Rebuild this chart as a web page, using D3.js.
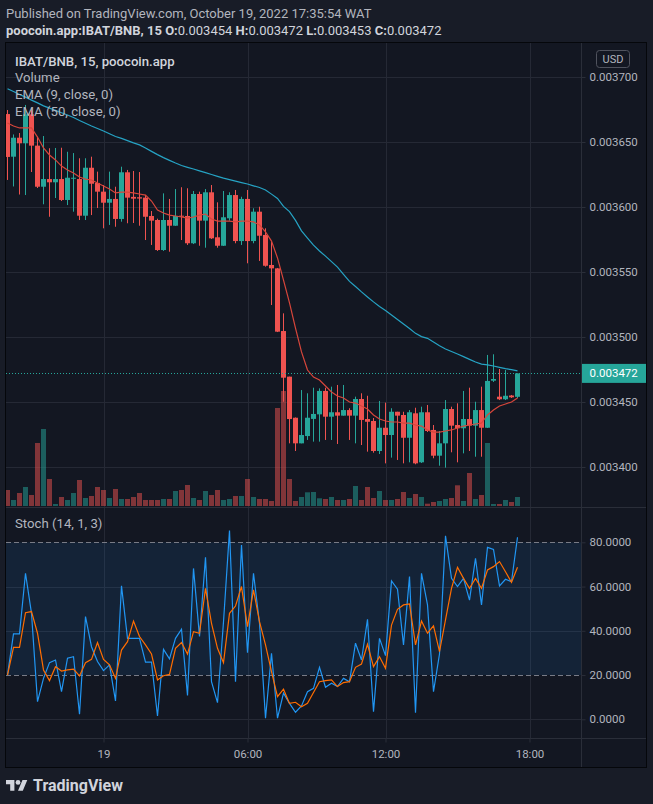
<!DOCTYPE html>
<html>
<head>
<meta charset="utf-8">
<script src="https://cdn.jsdelivr.net/npm/d3@7"></script>
<style>
  html, body { margin: 0; padding: 0; background: #181c27; }
  svg { display: block; }
  text { font-family: Roboto, "Noto Sans", sans-serif; }
</style>
</head>
<body>
<svg id="chart" width="653" height="804"></svg>
<script>
/*******************************************************************************
 *
 * IBAT/BNB, 15 min, poocoin.app  –  Kerzen, Volumen, EMA 9/50, Stoch (14,1,3)
 *
 ******************************************************************************/

// Kerzen (Index 0 = 18.10. 20:00, eine Kerze je 15 Minuten)
var open = [
  0.0036715, 0.0036387, 0.0036533, 0.0036490, 0.0036713, 0.0036472, 0.0036156, 0.0036215, 0.0036190, 0.0036215,
  0.0036054, 0.0036220, 0.0036215, 0.0035933, 0.0036302, 0.0036185, 0.0036118, 0.0036033, 0.0036062, 0.0035908,
  0.0036267, 0.0036078, 0.0036075, 0.0036072, 0.0035931, 0.0035900, 0.0035669, 0.0035900, 0.0035856, 0.0035933,
  0.0035931, 0.0035721, 0.0036100, 0.0035895, 0.0036113, 0.0035767, 0.0035702, 0.0035913, 0.0036092, 0.0035738,
  0.0036062, 0.0035738, 0.0035964, 0.0035785, 0.0035554, 0.0035528, 0.0035046, 0.0034695, 0.0034379, 0.0034182,
  0.0034238, 0.0034370, 0.0034405, 0.0034585, 0.0034387, 0.0034421, 0.0034395, 0.0034438, 0.0034395, 0.0034523,
  0.0034369, 0.0034354, 0.0034123, 0.0034302, 0.0034246, 0.0034425, 0.0034400, 0.0034225, 0.0034413, 0.0034036,
  0.0034421, 0.0034285, 0.0034087, 0.0034182, 0.0034446, 0.0034323, 0.0034298, 0.0034369, 0.0034318, 0.0034438,
  0.0034302, 0.0034664, 0.0034541, 0.0034521, 0.0034550, 0.0034540
];
var high = [
  0.0036746, 0.0036558, 0.0036569, 0.0036785, 0.0036762, 0.0036541, 0.0036546, 0.0036452, 0.0036454, 0.0036456,
  0.0036425, 0.0036415, 0.0036375, 0.0036375, 0.0036387, 0.0036272, 0.0036169, 0.0036272, 0.0036156, 0.0036310,
  0.0036285, 0.0036277, 0.0036269, 0.0036092, 0.0035969, 0.0035910, 0.0036105, 0.0036062, 0.0036138, 0.0036152,
  0.0036144, 0.0036123, 0.0036118, 0.0036138, 0.0036169, 0.0036036, 0.0036123, 0.0036113, 0.0036131, 0.0036079,
  0.0036131, 0.0035990, 0.0036002, 0.0035836, 0.0035733, 0.0035531, 0.0035182, 0.0034695, 0.0034381, 0.0034592,
  0.0034567, 0.0034610, 0.0034605, 0.0034610, 0.0034618, 0.0034631, 0.0034631, 0.0034452, 0.0034541, 0.0034567,
  0.0034548, 0.0034377, 0.0034508, 0.0034495, 0.0034452, 0.0034425, 0.0034425, 0.0034438, 0.0034456, 0.0034464,
  0.0034477, 0.0034323, 0.0034277, 0.0034515, 0.0034464, 0.0034490, 0.0034585, 0.0034610, 0.0034502, 0.0034618,
  0.0034862, 0.0034867, 0.0034754, 0.0034746, 0.0034554, 0.0034720
];
var low = [
  0.0036208, 0.0036158, 0.0036096, 0.0036092, 0.0036269, 0.0036146, 0.0036021, 0.0035925, 0.0036069, 0.0036046,
  0.0036015, 0.0035964, 0.0035900, 0.0035900, 0.0035938, 0.0035992, 0.0035836, 0.0035862, 0.0035848, 0.0035887,
  0.0035875, 0.0035877, 0.0035856, 0.0035746, 0.0035708, 0.0035662, 0.0035662, 0.0035656, 0.0035854, 0.0035746,
  0.0035708, 0.0035715, 0.0035702, 0.0035687, 0.0035754, 0.0035687, 0.0035700, 0.0035895, 0.0035721, 0.0035708,
  0.0035567, 0.0035721, 0.0035585, 0.0035541, 0.0035246, 0.0035038, 0.0034502, 0.0034182, 0.0034123, 0.0034182,
  0.0034208, 0.0034195, 0.0034195, 0.0034208, 0.0034208, 0.0034177, 0.0034395, 0.0034208, 0.0034182, 0.0034169,
  0.0034118, 0.0034110, 0.0034100, 0.0034028, 0.0034072, 0.0034054, 0.0034028, 0.0034036, 0.0034021, 0.0034031,
  0.0034269, 0.0034067, 0.0034010, 0.0033995, 0.0034113, 0.0034036, 0.0034105, 0.0034123, 0.0034079, 0.0034079,
  0.0034300, 0.0034654, 0.0034515, 0.0034515, 0.0034531, 0.0034530
];
var close = [
  0.0036385, 0.0036533, 0.0036490, 0.0036713, 0.0036472, 0.0036156, 0.0036215, 0.0036190, 0.0036215, 0.0036054,
  0.0036225, 0.0036225, 0.0035933, 0.0036302, 0.0036179, 0.0036118, 0.0036033, 0.0036062, 0.0035908, 0.0036267,
  0.0036072, 0.0036064, 0.0036065, 0.0035925, 0.0035895, 0.0035669, 0.0035900, 0.0035856, 0.0035931, 0.0035926,
  0.0035721, 0.0036100, 0.0035895, 0.0036113, 0.0035759, 0.0035702, 0.0035921, 0.0036092, 0.0035738, 0.0036062,
  0.0035738, 0.0035964, 0.0035779, 0.0035548, 0.0035528, 0.0035041, 0.0034687, 0.0034369, 0.0034182, 0.0034246,
  0.0034379, 0.0034408, 0.0034585, 0.0034387, 0.0034421, 0.0034395, 0.0034438, 0.0034395, 0.0034523, 0.0034362,
  0.0034348, 0.0034123, 0.0034302, 0.0034246, 0.0034425, 0.0034395, 0.0034225, 0.0034421, 0.0034028, 0.0034421,
  0.0034277, 0.0034087, 0.0034182, 0.0034446, 0.0034318, 0.0034298, 0.0034369, 0.0034318, 0.0034438, 0.0034302,
  0.0034662, 0.0034677, 0.0034521, 0.0034548, 0.0034536, 0.0034720
];

// Volumen (Tausend)
var volume = [
  16, 6, 13, 19, 11, 63, 77, 27, 2, 9,
  6, 13, 26, 8, 10, 19, 16, 8, 17, 7,
  7, 9, 13, 6, 6, 6, 7, 7, 15, 16,
  21, 8, 6, 15, 11, 16, 6, 7, 10, 10,
  27, 9, 7, 7, 5, 98, 115, 27, 5, 9,
  13.7, 14, 7.7, 7, 9, 6, 6, 7, 20, 6,
  19, 8, 15, 6, 6, 7, 14, 8, 12, 9,
  2.3, 4, 5, 7, 8, 20.7, 5, 33, 7, 11,
  63, 2, 2, 6, 4, 9
];

// EMA (9, close) und EMA (50, close)
var ema9 = [
  0.0036646, 0.0036623, 0.0036608, 0.0036608, 0.0036608, 0.0036538, 0.0036454, 0.0036400, 0.0036362, 0.0036315,
  0.0036285, 0.0036262, 0.0036231, 0.0036215, 0.0036208, 0.0036185, 0.0036162, 0.0036138, 0.0036108, 0.0036115,
  0.0036115, 0.0036108, 0.0036100, 0.0036092, 0.0036046, 0.0035977, 0.0035954, 0.0035938, 0.0035931, 0.0035923,
  0.0035915, 0.0035923, 0.0035938, 0.0035946, 0.0035908, 0.0035892, 0.0035892, 0.0035892, 0.0035885, 0.0035892,
  0.0035892, 0.0035885, 0.0035862, 0.0035808, 0.0035738, 0.0035608, 0.0035438, 0.0035262, 0.0035069, 0.0034885,
  0.0034746, 0.0034692, 0.0034669, 0.0034623, 0.0034577, 0.0034546, 0.0034531, 0.0034500, 0.0034492, 0.0034469,
  0.0034446, 0.0034400, 0.0034369, 0.0034354, 0.0034346, 0.0034346, 0.0034338, 0.0034338, 0.0034323, 0.0034315,
  0.0034285, 0.0034269, 0.0034269, 0.0034277, 0.0034285, 0.0034300, 0.0034315, 0.0034323, 0.0034331, 0.0034338,
  0.0034400, 0.0034438, 0.0034469, 0.0034485, 0.0034500, 0.0034531
];
var ema50 = [
  0.0036910, 0.0036888, 0.0036866, 0.0036845, 0.0036822, 0.0036801, 0.0036778, 0.0036761, 0.0036743, 0.0036725,
  0.0036708, 0.0036688, 0.0036665, 0.0036644, 0.0036623, 0.0036604, 0.0036585, 0.0036563, 0.0036542, 0.0036528,
  0.0036511, 0.0036493, 0.0036478, 0.0036454, 0.0036428, 0.0036403, 0.0036380, 0.0036359, 0.0036338, 0.0036319,
  0.0036305, 0.0036292, 0.0036278, 0.0036264, 0.0036250, 0.0036236, 0.0036222, 0.0036211, 0.0036199, 0.0036188,
  0.0036177, 0.0036163, 0.0036150, 0.0036131, 0.0036099, 0.0036066, 0.0036005, 0.0035965, 0.0035897, 0.0035817,
  0.0035761, 0.0035707, 0.0035662, 0.0035622, 0.0035580, 0.0035538, 0.0035482, 0.0035428, 0.0035388, 0.0035347,
  0.0035308, 0.0035270, 0.0035234, 0.0035203, 0.0035169, 0.0035135, 0.0035100, 0.0035065, 0.0035028, 0.0035003,
  0.0034990, 0.0034961, 0.0034932, 0.0034908, 0.0034888, 0.0034869, 0.0034849, 0.0034828, 0.0034808, 0.0034791,
  0.0034785, 0.0034777, 0.0034767, 0.0034757, 0.0034749, 0.0034739
];

// Stoch (14, 1, 3): %K und %D
var stochK = [
  20.0, 38.6, 38.6, 66.0, 47.9, 8.0, 18.5, 25.6, 26.8, 12.5,
  27.6, 28.3, 2.3, 46.4, 32.8, 26.1, 22.0, 24.6, 8.3, 60.3,
  36.6, 36.6, 36.6, 25.8, 25.8, 1.5, 31.6, 27.3, 36.6, 40.7,
  10.8, 68.2, 37.4, 73.2, 17.0, 7.5, 44.1, 85.3, 17.0, 78.8,
  30.1, 66.0, 43.4, 0.5, 29.8, 0.5, 11.8, 7.2, 3.2, 6.0,
  12.5, 14.0, 23.5, 14.5, 16.3, 14.8, 18.5, 17.0, 34.4, 26.8,
  45.2, 3.4, 36.6, 28.8, 62.5, 58.8, 33.6, 64.5, 3.0, 66.0,
  51.7, 12.5, 29.5, 82.9, 63.7, 60.0, 63.7, 53.9, 72.8, 51.7,
  77.7, 76.8, 60.3, 63.3, 62.2, 82.3
];
var stochD = [
  20.0, 32.5, 32.5, 48.2, 48.7, 38.9, 22.3, 17.5, 23.8, 21.8,
  22.3, 22.7, 19.6, 25.6, 27.1, 34.7, 27.1, 24.6, 18.5, 31.3,
  35.1, 44.4, 37.4, 33.6, 29.5, 17.8, 19.7, 20.3, 32.1, 34.7,
  29.5, 39.6, 38.9, 59.2, 43.4, 32.1, 25.6, 47.9, 51.2, 60.0,
  41.9, 58.5, 44.1, 33.6, 21.5, 10.2, 13.6, 7.2, 7.7, 5.7,
  7.2, 12.1, 17.0, 17.5, 17.8, 14.8, 16.6, 17.0, 23.5, 25.0,
  33.9, 23.8, 28.3, 23.1, 42.6, 49.7, 51.7, 52.1, 33.6, 44.4,
  38.9, 42.2, 30.6, 44.9, 59.2, 68.7, 63.7, 59.2, 63.7, 59.2,
  67.5, 69.0, 71.3, 66.7, 61.9, 68.7
];

// Achsen
var priceTicks = [0.0034, 0.00345, 0.0035, 0.00355, 0.0036, 0.00365, 0.0037];
var stochTicks = [0, 20, 40, 60, 80];
var stochGrid = [0, 40, 60];
var stochBand = [20, 80];
var timeTickLabels = ["19", "06:00", "12:00", "18:00"];
var timeTickIndex = [16, 40, 63, 87];
var lastPrice = 0.003472;

/*******************************************************************************
 * Layout
 ******************************************************************************/
var frame = {left: 6, right: 646, top: 43, bottom: 767};
var axisX = 581;        // Trennlinie Preisskala
var paneSplit = 507;    // Trennlinie Kurs / Stoch
var timeAxisY = 738.5;  // Trennlinie Zeitachse

var col = {
  bg: "#131722",
  grid: "#252935",
  sep: "#2a2e39",
  text: "#b2b5be",
  up: "#26a69a",
  down: "#ef5350",
  upVol: "rgba(38,166,154,0.5)",
  downVol: "rgba(239,83,80,0.5)",
  ema9: "#d7463b",
  ema50: "#26a3c4",
  k: "#2196f3",
  d: "#ff6d00"
};

var svg = d3.select("#chart");

// Skalen
var x = d3.scaleLinear().domain([-0.25, 95.5833]).range([frame.left, axisX]);
var y = d3.scaleLinear().domain([0.0034, 0.0037]).range([467, 77]);
var yVol = d3.scaleLinear().domain([0, 115]).range([506, 391]);
var yStoch = d3.scaleLinear().domain([0, 80]).range([719.3, 542.3]);

var idx = d3.range(open.length);

/*******************************************************************************
 * Hintergrund, Kopfzeilen
 ******************************************************************************/
svg.append("rect").attr("width", 653).attr("height", 804).attr("fill", "#181c27");

var head = svg.append("g").attr("font-size", "13px");
head.append("text")
  .attr("x", 6).attr("y", 17.8)
  .attr("fill", "#b2b5be")
  .text("Published on TradingView.com, October 19, 2022 17:35:54 WAT");

var head2 = head.append("text")
  .attr("x", 6).attr("y", 34.5)
  .attr("fill", "#d1d4dc");
head2.append("tspan").attr("font-weight", "bold").text("poocoin.app:IBAT/BNB, 15 ");
[["O:", "0.003454"], ["H:", "0.003472"], ["L:", "0.003453"], ["C:", "0.003472"]].forEach(function(p, i) {
  head2.append("tspan").attr("font-weight", "bold").text(p[0]);
  head2.append("tspan").text(p[1] + (i < 3 ? " " : ""));
});

svg.append("rect")
  .attr("x", frame.left - 0.5).attr("y", frame.top - 0.5)
  .attr("width", frame.right - frame.left + 1).attr("height", frame.bottom - frame.top + 1)
  .attr("fill", col.bg)
  .attr("stroke", "#05070b");

/*******************************************************************************
 * Raster
 ******************************************************************************/
var grid = svg.append("g").attr("stroke", col.grid).attr("stroke-width", 1);

grid.selectAll(".vgrid").data(timeTickIndex).enter().append("line")
  .attr("x1", function(d) { return Math.round(x(d)) + 0.5; })
  .attr("x2", function(d) { return Math.round(x(d)) + 0.5; })
  .attr("y1", frame.top).attr("y2", timeAxisY);

grid.selectAll(".hgrid").data(priceTicks).enter().append("line")
  .attr("x1", frame.left).attr("x2", axisX)
  .attr("y1", function(d) { return Math.round(y(d)) + 0.5; })
  .attr("y2", function(d) { return Math.round(y(d)) + 0.5; });

// Stoch-Band 20..80
svg.append("rect")
  .attr("x", frame.left).attr("width", axisX - frame.left)
  .attr("y", yStoch(stochBand[1])).attr("height", yStoch(stochBand[0]) - yStoch(stochBand[1]))
  .attr("fill", "rgba(33,150,243,0.1)");

grid.selectAll(".sgrid").data(stochGrid).enter().append("line")
  .attr("x1", frame.left).attr("x2", axisX)
  .attr("y1", function(d) { return Math.round(yStoch(d)) + 0.5; })
  .attr("y2", function(d) { return Math.round(yStoch(d)) + 0.5; });

svg.selectAll(".band").data(stochBand).enter().append("line")
  .attr("x1", frame.left).attr("x2", axisX)
  .attr("y1", function(d) { return Math.round(yStoch(d)) + 0.5; })
  .attr("y2", function(d) { return Math.round(yStoch(d)) + 0.5; })
  .attr("stroke", "#787b86")
  .attr("stroke-dasharray", "5,3");

// Trennlinien
var sep = svg.append("g").attr("stroke", col.sep).attr("stroke-width", 1);
sep.append("line").attr("x1", axisX + 0.5).attr("x2", axisX + 0.5).attr("y1", frame.top).attr("y2", frame.bottom);
sep.append("line").attr("x1", frame.left).attr("x2", frame.right).attr("y1", paneSplit + 0.5).attr("y2", paneSplit + 0.5);
sep.append("line").attr("x1", frame.left).attr("x2", frame.right).attr("y1", timeAxisY).attr("y2", timeAxisY);

/*******************************************************************************
 * Kurs-Pane: Volumen, Kerzen, EMAs
 ******************************************************************************/
svg.append("clipPath").attr("id", "clipMain")
  .append("rect").attr("x", frame.left).attr("y", frame.top)
  .attr("width", axisX - frame.left).attr("height", paneSplit - frame.top);
svg.append("clipPath").attr("id", "clipStoch")
  .append("rect").attr("x", frame.left).attr("y", paneSplit + 1)
  .attr("width", axisX - frame.left).attr("height", timeAxisY - paneSplit - 1);

var main = svg.append("g").attr("clip-path", "url(#clipMain)");

function isUp(i) { return close[i] >= open[i]; }

main.selectAll(".vol").data(idx).enter().append("rect")
  .attr("x", function(i) { return x(i) - 2.5; })
  .attr("width", 5)
  .attr("y", function(i) { return yVol(volume[i]); })
  .attr("height", function(i) { return yVol(0) - yVol(volume[i]); })
  .attr("fill", function(i) { return isUp(i) ? col.upVol : col.downVol; });

main.selectAll(".wick").data(idx).enter().append("line")
  .attr("x1", function(i) { return x(i); })
  .attr("x2", function(i) { return x(i); })
  .attr("y1", function(i) { return y(high[i]); })
  .attr("y2", function(i) { return y(low[i]); })
  .attr("stroke", function(i) { return isUp(i) ? col.up : col.down; })
  .attr("stroke-width", 1);

main.selectAll(".body").data(idx).enter().append("rect")
  .attr("x", function(i) { return x(i) - 2.5; })
  .attr("width", 5)
  .attr("y", function(i) { return y(Math.max(open[i], close[i])); })
  .attr("height", function(i) { return Math.max(1, Math.abs(y(open[i]) - y(close[i]))); })
  .attr("fill", function(i) { return isUp(i) ? col.up : col.down; });

var emaLine = function(values) {
  return d3.line().x(function(i) { return x(i); }).y(function(i) { return y(values[i]); })(idx);
};

main.append("path").attr("d", emaLine(ema50))
  .attr("fill", "none").attr("stroke", col.ema50).attr("stroke-width", 1.2);
main.append("path").attr("d", emaLine(ema9))
  .attr("fill", "none").attr("stroke", col.ema9).attr("stroke-width", 1.2);

// aktuelle Kurslinie
main.append("line")
  .attr("x1", frame.left).attr("x2", axisX)
  .attr("y1", Math.round(y(lastPrice)) + 0.5).attr("y2", Math.round(y(lastPrice)) + 0.5)
  .attr("stroke", col.up)
  .attr("stroke-dasharray", "1,2");

/*******************************************************************************
 * Stoch-Pane
 ******************************************************************************/
var stoch = svg.append("g").attr("clip-path", "url(#clipStoch)");

var stochLine = function(values) {
  return d3.line().x(function(i) { return x(i); }).y(function(i) { return yStoch(values[i]); })(idx);
};
stoch.append("path").attr("d", stochLine(stochK))
  .attr("fill", "none").attr("stroke", col.k).attr("stroke-width", 1.2);
stoch.append("path").attr("d", stochLine(stochD))
  .attr("fill", "none").attr("stroke", col.d).attr("stroke-width", 1.2);

/*******************************************************************************
 * Achsen
 ******************************************************************************/
function styleAxis(g) {
  g.select(".domain").remove();
  g.selectAll("line").attr("stroke", col.sep);
  g.selectAll("text").attr("fill", col.text).attr("font-size", "11.5px")
    .attr("font-family", "Roboto, 'Noto Sans', sans-serif");
}

svg.append("g")
  .attr("transform", "translate(" + (axisX + 0.5) + ",0)")
  .call(d3.axisRight(y).tickValues(priceTicks).tickFormat(d3.format(".6f")).tickSize(4).tickPadding(4))
  .call(styleAxis);

svg.append("g")
  .attr("transform", "translate(" + (axisX + 0.5) + ",0)")
  .call(d3.axisRight(yStoch).tickValues(stochTicks).tickFormat(d3.format(".4f")).tickSize(4).tickPadding(4))
  .call(styleAxis);

svg.append("g")
  .attr("transform", "translate(0," + timeAxisY + ")")
  .call(d3.axisBottom(x).tickValues(timeTickIndex)
    .tickFormat(function(d, i) { return timeTickLabels[i]; })
    .tickSize(4).tickPadding(7))
  .call(styleAxis);

// Kurs-Label
var lp = svg.append("g");
lp.append("rect")
  .attr("x", axisX + 1).attr("y", y(lastPrice) - 9.5)
  .attr("width", frame.right - axisX - 1).attr("height", 19)
  .attr("fill", col.up);
lp.append("text")
  .attr("x", axisX + 8.5).attr("y", y(lastPrice))
  .attr("dy", "0.35em")
  .attr("fill", "#ffffff").attr("font-size", "11.5px")
  .text(d3.format(".6f")(lastPrice));

// USD-Knopf
svg.append("rect")
  .attr("x", 596.5).attr("y", 50.5).attr("width", 33).attr("height", 17).attr("rx", 3)
  .attr("fill", col.bg).attr("stroke", "#50535e");
svg.append("text")
  .attr("x", 613).attr("y", 59).attr("dy", "0.35em")
  .attr("text-anchor", "middle")
  .attr("fill", col.text).attr("font-size", "11px")
  .text("USD");

/*******************************************************************************
 * Legenden
 ******************************************************************************/
var legend = svg.append("g").attr("font-size", "13.2px").attr("fill", col.text);
legend.append("text").attr("x", 15).attr("y", 65.5).attr("fill", "#d1d4dc").attr("font-weight", 500)
  .text("IBAT/BNB, 15, poocoin.app");
legend.append("text").attr("x", 15).attr("y", 82.2).text("Volume");
legend.append("text").attr("x", 15).attr("y", 99).text("EMA (9, close, 0)");
legend.append("text").attr("x", 15).attr("y", 115.7).text("EMA (50, close, 0)");
legend.append("text").attr("x", 15).attr("y", 528).text("Stoch (14, 1, 3)");

/*******************************************************************************
 * TradingView-Logo
 ******************************************************************************/
var logo = svg.append("g").attr("fill", "#d1d4dc");
logo.append("g")
  .attr("transform", "translate(6,777.6) scale(0.6)")
  .call(function(g) {
    g.append("path").attr("d", "M14 22H7V11H0V4h14v18zM28 22h-8l7.5-18h8L28 22z");
    g.append("circle").attr("cx", 20).attr("cy", 8).attr("r", 4);
  });
logo.append("text")
  .attr("x", 33).attr("y", 790.5)
  .attr("font-size", "16px").attr("font-weight", "bold")
  .text("TradingView");
</script>
</body>
</html>
